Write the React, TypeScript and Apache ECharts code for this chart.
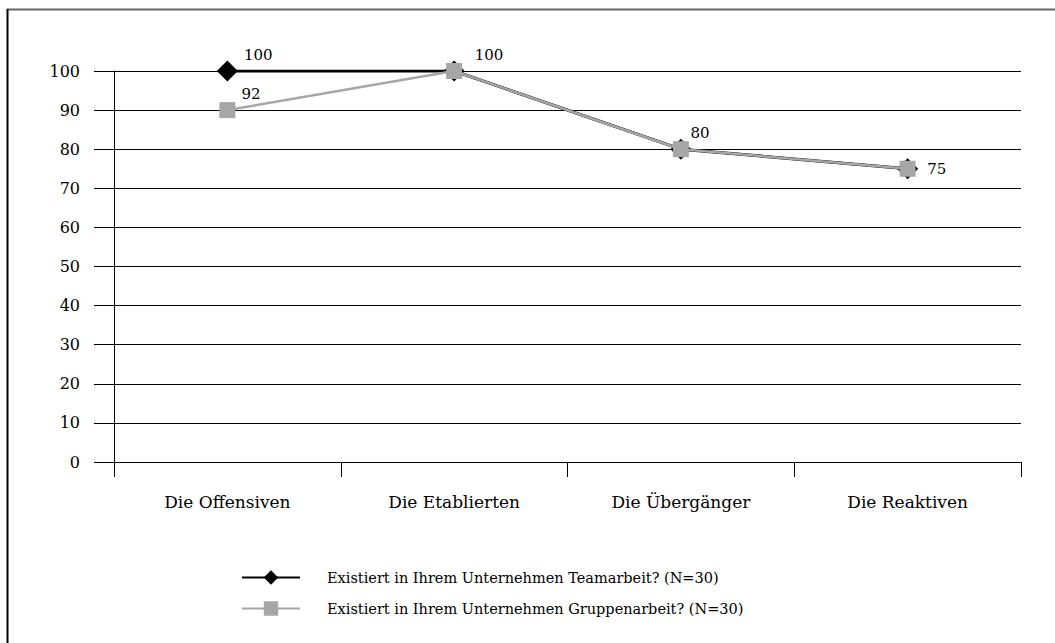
import React, { useEffect, useRef } from "react";
import * as echarts from "echarts";

const categories = ["Die Offensiven", "Die Etablierten", "Die Übergänger", "Die Reaktiven"];
const teamName = "Existiert in Ihrem Unternehmen Teamarbeit? (N=30)";
const groupName = "Existiert in Ihrem Unternehmen Gruppenarbeit? (N=30)";
const teamValues = [100, 100, 80, 75];
const groupValues = [90, 100, 80, 75];
const teamLabels = ["100", "100", "80", "75"];
const groupLabels = ["92", "", "", ""];
const yTicks = [0, 10, 20, 30, 40, 50, 60, 70, 80, 90, 100];

const FONT = "DejaVu Serif";

export default function App() {
  const ref = useRef<HTMLDivElement>(null);
  useEffect(() => {
    if (!ref.current) return;
    const chart = echarts.init(ref.current, null, { renderer: "svg" });
    const teamOffsets = [[1, -16], [5, -16], [-6, -16], [4, 0]];
    const groupOffsets = [[1, -16], [0, 0], [0, 0], [0, 0]];
    chart.setOption({
      animation: false,
      backgroundColor: "#fff",
      grid: { left: 114, right: 34, top: 71, bottom: 181, containLabel: false },
      graphic: [
        { type: "line", shape: { x1: 7, y1: 9.5, x2: 1055, y2: 9.5 }, style: { stroke: "#666", lineWidth: 2 } },
        { type: "line", shape: { x1: 7.5, y1: 9, x2: 7.5, y2: 643 }, style: { stroke: "#000", lineWidth: 2 } },
      ],
      legend: {
        orient: "vertical",
        left: 236,
        top: 565,
        itemWidth: 58,
        itemHeight: 18,
        itemGap: 16,
        data: [teamName, groupName],
        textStyle: { fontFamily: FONT, fontSize: 14.5, color: "#000", padding: [0, 0, 0, 22] },
      },
      xAxis: {
        type: "category",
        data: categories,
        boundaryGap: true,
        axisLine: { show: true, lineStyle: { color: "#000", width: 1 } },
        axisTick: { show: true, length: 15, lineStyle: { color: "#000" } },
        axisLabel: { fontFamily: FONT, fontSize: 17, color: "#000", margin: 31 },
        splitLine: { show: false },
      },
      yAxis: {
        type: "value",
        min: yTicks[0],
        max: yTicks[yTicks.length - 1],
        interval: 10,
        axisLine: { show: true, lineStyle: { color: "#000", width: 1 } },
        axisTick: { show: true, length: 20, lineStyle: { color: "#000" } },
        axisLabel: { fontFamily: FONT, fontSize: 16, color: "#000", margin: 34 },
        splitLine: { show: true, lineStyle: { color: "#000", width: 1 } },
      },
      series: [
        {
          name: teamName,
          type: "line",
          z: 3,
          data: teamValues.map((v, i) => ({
            value: v,
            label: {
              show: true,
              position: "right",
              offset: teamOffsets[i],
              formatter: () => teamLabels[i],
              fontFamily: FONT, fontSize: 15, color: "#000",
            },
          })),
          symbol: "diamond",
          symbolSize: 21,
          lineStyle: { color: "#000", width: 3 },
          itemStyle: { color: "#000" },
        },
        {
          name: groupName,
          type: "line",
          z: 4,
          data: groupValues.map((v, i) => ({
            value: v,
            label: {
              show: groupLabels[i] !== "",
              position: "right",
              offset: groupOffsets[i],
              formatter: () => groupLabels[i],
              fontFamily: FONT, fontSize: 15, color: "#000",
            },
          })),
          symbol: "rect",
          symbolSize: 16,
          lineStyle: { color: "#a6a6a6", width: 2.5 },
          itemStyle: { color: "#a6a6a6" },
        },
      ],
    });
    return () => chart.dispose();
  }, []);
  return (
    <div
      ref={ref}
      style={{ position: "absolute", left: 0, top: 0, width: 1055, height: 643, background: "#fff" }}
    />
  );
}
